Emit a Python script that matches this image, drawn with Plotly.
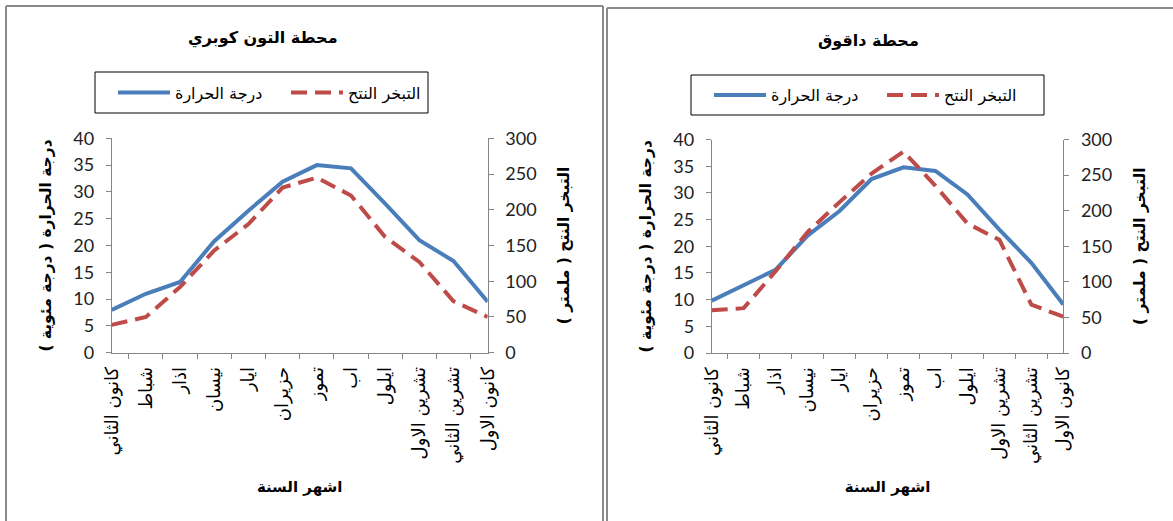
import plotly.graph_objects as go

W, H = 1173, 521

# Months of the year (x categories)
months = ["كانون الثاني", "شباط", "اذار", "نيسان", "ايار", "حزيران",
          "تموز", "اب", "ايلول", "تشرين الاول", "تشرين الثاني", "كانون الاول"]

# Altun Kupri station
altun_temp = [8, 11, 13.2, 20.8, 26.5, 31.9, 35, 34.4, 27.8, 21, 17.1, 9.5]
altun_evap = [39, 50, 92, 143, 180, 231, 245, 220, 162, 127, 72, 50]

# Daquq station
daquq_temp = [9.8, 12.8, 15.6, 22, 26.6, 32.6, 34.8, 34.1, 29.7, 23.1, 16.9, 9.1]
daquq_evap = [60, 63, 115, 170, 212, 252, 283, 235, 182, 159, 68, 51]

titles = ["محطة التون كوبري", "محطة داقوق"]
temp_name = "درجة الحرارة"
evap_name = "التبخر النتح"
x_title = "اشهر السنة"
y_title_left = "درجة الحرارة ( درجة مئوية )"
y_title_right = "التبخر النتح ( ملمتر )"

BLUE = "#4A7EBB"
RED = "#BE4B48"
AXIS = "#868686"
TXT = "#000000"
AR_FONT = "DejaVu Sans"
NUM_FONT = "Lato"


def px_x(v):
    return v / W


def px_y(v):
    return 1 - v / H


fig = go.Figure()

panels = [
    dict(temp=altun_temp, evap=altun_evap, x0=111.7, x1=487.7, ytop=138.3, ybot=352.7,
         xa="x", ya="y", ya2="y2", legend="legend",
         title_xy=(263, 38), legend_box=(95, 72, 428, 113)),
    dict(temp=daquq_temp, evap=daquq_evap, x0=711.7, x1=1063.3, ytop=139.5, ybot=353.0,
         xa="x2", ya="y3", ya2="y4", legend="legend2",
         title_xy=(868, 40), legend_box=(691, 75, 1044, 115)),
]

for p in panels:
    fig.add_trace(go.Scatter(
        x=months, y=p["temp"], name=temp_name, mode="lines",
        line=dict(color=BLUE, width=4), xaxis=p["xa"], yaxis=p["ya"],
        legend=p["legend"]))
    fig.add_trace(go.Scatter(
        x=months, y=p["evap"], name=evap_name, mode="lines",
        line=dict(color=RED, width=4, dash="16px,8px"), xaxis=p["xa"], yaxis=p["ya2"],
        legend=p["legend"]))

axis_common = dict(showline=True, linecolor=AXIS, linewidth=1, ticks="outside",
                   tickcolor=AXIS, ticklen=5, showgrid=False, zeroline=False,
                   automargin=False)

layout = dict(
    width=W, height=H, margin=dict(l=0, r=0, t=0, b=0, pad=0, autoexpand=False),
    paper_bgcolor="white", plot_bgcolor="white",
    font=dict(family=AR_FONT, color=TXT),
    showlegend=True,
)

annotations = []
shapes = []
frame = dict(type="line", xref="paper", yref="paper", line=dict(color="#8a8a8a", width=2))

for i, p in enumerate(panels):
    xk = "xaxis" if i == 0 else "xaxis2"
    yk = "yaxis" if i == 0 else "yaxis3"
    y2k = "yaxis2" if i == 0 else "yaxis4"
    lk = p["legend"]
    dom_y = [px_y(p["ybot"]), px_y(p["ytop"])]
    layout[xk] = dict(axis_common, domain=[px_x(p["x0"]), px_x(p["x1"])],
                      anchor=p["ya"], type="category", tickson="boundaries",
                      tickangle=-90, ticklabelstandoff=6,
                      tickfont=dict(family=AR_FONT, size=18, color=TXT),
                      title=dict(text="<b>" + x_title + "</b>", standoff=18,
                                 font=dict(family=AR_FONT, size=15, color=TXT)))
    layout[yk] = dict(axis_common, domain=dom_y, anchor=p["xa"], range=[0, 40], dtick=5,
                      tickfont=dict(family=NUM_FONT, size=18, color="#222"),
                      ticklabelstandoff=8,
                      title=dict(text="<b>" + y_title_left + "</b>", standoff=17,
                                 font=dict(family=AR_FONT, size=15.5, color=TXT)))
    layout[y2k] = dict(axis_common, domain=dom_y, anchor=p["xa"], overlaying=p["ya"],
                       side="right", range=[0, 300], dtick=50,
                       tickfont=dict(family=NUM_FONT, size=18, color="#222"),
                       ticklabelstandoff=8,
                       title=dict(text="<b>" + y_title_right + "</b>", standoff=22,
                                  font=dict(family=AR_FONT, size=15.5, color=TXT)))

    bx0, by0, bx1, by1 = p["legend_box"]
    layout[lk] = dict(orientation="h", borderwidth=0, bgcolor="rgba(0,0,0,0)",
                      font=dict(family=AR_FONT, size=16, color=TXT),
                      xanchor="left", yanchor="middle", itemwidth=52, entrywidth=88,
                      indentation=18, traceorder="normal",
                      x=px_x(bx0), y=px_y((by0 + by1) / 2))
    shapes.append(dict(type="rect", xref="paper", yref="paper",
                       x0=px_x(bx0), x1=px_x(bx1), y0=px_y(by1), y1=px_y(by0),
                       line=dict(color="#000", width=1), layer="below"))

    tx, ty = p["title_xy"]
    annotations.append(dict(text="<b>" + titles[i] + "</b>", x=px_x(tx), y=px_y(ty),
                            xref="paper", yref="paper", xanchor="center", yanchor="middle",
                            showarrow=False, font=dict(family=AR_FONT, size=16, color=TXT)))

# Chart frames
shapes += [
    dict(frame, x0=px_x(6), x1=px_x(6), y0=px_y(6), y1=0),
    dict(frame, x0=px_x(6), x1=px_x(603), y0=px_y(6), y1=px_y(6)),
    dict(frame, x0=px_x(603), x1=px_x(603), y0=px_y(6), y1=0),
    dict(frame, x0=px_x(607), x1=px_x(607), y0=px_y(8), y1=0),
    dict(frame, x0=px_x(607), x1=1, y0=px_y(8), y1=px_y(8)),
]

layout["annotations"] = annotations
layout["shapes"] = shapes

fig.update_layout(layout)
fig.write_html("out.html")
